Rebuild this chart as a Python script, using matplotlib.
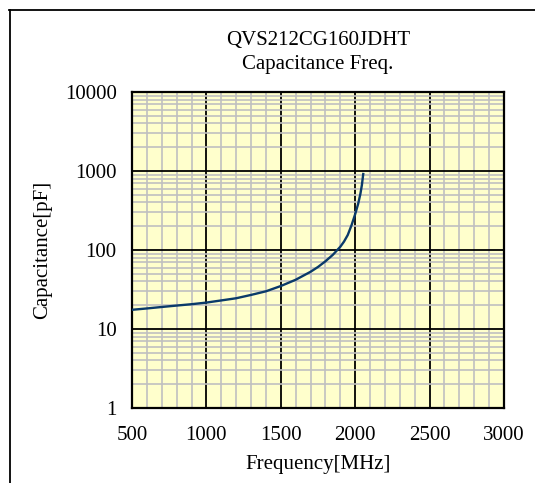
import matplotlib
matplotlib.use("Agg")
import matplotlib.pyplot as plt
from matplotlib.ticker import FixedLocator, NullFormatter, LogLocator
from matplotlib.lines import Line2D

freq_mhz = [500, 600, 700, 800, 900, 1000, 1100, 1200, 1300, 1400, 1500, 1600, 1700, 1750, 1800,
            1850, 1900, 1925, 1950, 1975, 2000, 2020, 2035, 2045, 2054]
cap_pf = [17.5, 18.2, 19.0, 19.8, 20.6, 21.6, 23.0, 24.5, 27.0, 30.0, 35.0, 42.0, 53.0, 61.0, 72.0,
          87.0, 110.0, 128.0, 155.0, 205.0, 285.0, 385.0, 515.0, 665.0, 916.0]

title_lines = ["QVS212CG160JDHT", "Capacitance Freq."]
x_ticks = [500, 1000, 1500, 2000, 2500, 3000]
y_ticks = [1, 10, 100, 1000, 10000]
y_tick_labels = ["1", "10", "100", "1000", "10000"]

plt.rcParams['font.family'] = ['Liberation Serif', 'DejaVu Serif']
FS = 15

W, H = 535, 483
fig = plt.figure(figsize=(W / 100, H / 100), dpi=100)
ax = fig.add_axes([132 / W, 1 - 408 / H, (504 - 132) / W, (408 - 92) / H])
ax.set_facecolor("#FFFFCC")

ax.set_yscale("log")
ax.set_xlim(500, 3000)
ax.set_ylim(1, 10000)

ax.xaxis.set_major_locator(FixedLocator(x_ticks))
ax.xaxis.set_minor_locator(FixedLocator(list(range(500, 3001, 100))))
ax.yaxis.set_major_locator(FixedLocator(y_ticks))
ax.yaxis.set_minor_locator(LogLocator(base=10, subs=range(2, 10)))
ax.yaxis.set_minor_formatter(NullFormatter())
ax.set_xticklabels([str(v) for v in x_ticks])
ax.set_yticklabels(y_tick_labels)

ax.grid(which="minor", color="#C0C0C0", linewidth=1.2, zorder=1)
ax.grid(which="major", color="black", linewidth=1.3, zorder=2)
ax.set_axisbelow(True)
ax.tick_params(which="both", length=0, labelsize=FS)
ax.tick_params(axis="x", pad=13)
ax.tick_params(axis="y", pad=11)
for s in ax.spines.values():
    s.set_linewidth(1.6)
    s.set_color("black")

ax.plot(freq_mhz, cap_pf, color="#0A3A6A", linewidth=1.7, zorder=5)

ax.set_xlabel("Frequency[MHz]", fontsize=FS, labelpad=7)
ax.set_ylabel("Capacitance[pF]", fontsize=FS, labelpad=9)

fig.text(318 / W, 1 - 40 / H, title_lines[0], ha="center", va="center", fontsize=FS)
fig.text(318 / W, 1 - 65 / H, title_lines[1], ha="center", va="center", fontsize=FS)

# outer frame: top line and left line
fig.add_artist(Line2D([9 / W, 1.0], [1 - 9.5 / H, 1 - 9.5 / H], transform=fig.transFigure, color="black", linewidth=1.3))
fig.add_artist(Line2D([9.5 / W, 9.5 / W], [0, 1 - 9.5 / H], transform=fig.transFigure, color="black", linewidth=1.3))

fig.savefig("out.png", dpi=100, facecolor="white")
